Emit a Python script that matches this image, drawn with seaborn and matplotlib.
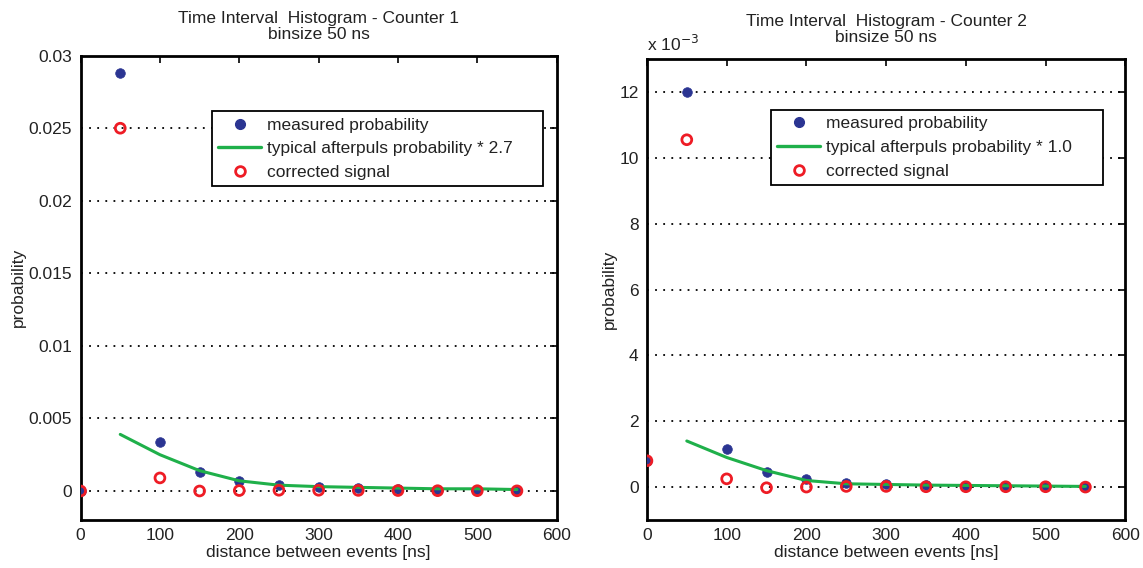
import numpy as np
import pandas as pd
import matplotlib
matplotlib.use("Agg")
import matplotlib.pyplot as plt
from matplotlib.ticker import FuncFormatter
from matplotlib.lines import Line2D
import seaborn as sns

# ---- data ----
x_pts = [0, 50, 100, 150, 200, 250, 300, 350, 400, 450, 500, 550]
x_line = [50, 100, 150, 200, 250, 300, 350, 400, 450, 500, 550]

c1_measured = [0.0, 0.0288, 0.0034, 0.0013, 0.0007, 0.0004, 0.0003, 0.0002, 0.00015, 0.0001, 0.0001, 0.00005]
c1_corrected = [0.0, 0.0250, 0.0009, 0.0, 0.00003, 0.00005, 0.00005, 0.00004, 0.00003, 0.00002, 0.00002, 0.00001]
c1_afterpuls = [0.0039, 0.0025, 0.0014, 0.0007, 0.0004, 0.0003, 0.00025, 0.0002, 0.00015, 0.00015, 0.0001]

c2_measured = [0.0008, 0.0120, 0.00115, 0.00045, 0.00025, 0.00012, 0.00008, 0.00005, 0.00004, 0.00003, 0.00002, 0.00001]
c2_corrected = [0.0008, 0.01055, 0.00025, -0.00002, 0.0, 0.00002, 0.00002, 0.00001, 0.00001, 0.00001, 0.00001, 0.0]
c2_afterpuls = [0.0014, 0.0009, 0.0005, 0.0002, 0.0001, 0.00008, 0.00006, 0.00005, 0.00004, 0.00003, 0.00002]

titles = ["Time Interval  Histogram - Counter 1\nbinsize 50 ns",
          "Time Interval  Histogram - Counter 2\nbinsize 50 ns"]
legend_labels_1 = ["measured probability", "typical afterpuls probability * 2.7", "corrected signal"]
legend_labels_2 = ["measured probability", "typical afterpuls probability * 1.0", "corrected signal"]
xlabel = "distance between events [ns]"
ylabel = "probability"

# ---- style ----
sns.set_theme(style="white")
plt.rcParams['font.family'] = ['Liberation Sans', 'DejaVu Sans']
FS = 12.5
plt.rcParams['font.size'] = FS

BLUE = "#2b3592"
RED = "#ee1c25"
GREEN = "#1fb04a"
TXT = "#222222"

fig = plt.figure(figsize=(11.43, 5.68), dpi=100)
ax1 = fig.add_axes([0.0705, 0.0845, 0.4165, 0.8175])
ax2 = fig.add_axes([0.566, 0.0845, 0.4185, 0.8115])


def draw(ax, meas, corr, line, labels, ylim, yticks, title, leg_box):
    df_p = pd.DataFrame({"x": x_pts, "meas": meas, "corr": corr})
    df_l = pd.DataFrame({"x": x_line, "line": line})
    sns.scatterplot(data=df_p, x="x", y="meas", ax=ax, color=BLUE, s=48,
                    edgecolor=BLUE, linewidth=0.5, zorder=3, legend=False)
    sns.lineplot(data=df_l, x="x", y="line", ax=ax, color=GREEN, lw=2.2,
                 zorder=4, legend=False)
    sns.scatterplot(data=df_p, x="x", y="corr", ax=ax, facecolor="none",
                    edgecolor=RED, s=50, linewidth=2.0, zorder=5, legend=False)
    ax.set_xlim(0, 600)
    ax.set_ylim(*ylim)
    ax.set_xticks(np.arange(0, 601, 100))
    ax.set_yticks(yticks)
    ax.yaxis.grid(True, linestyle=(0, (1, 3.5)), color="black", lw=1.3)
    ax.xaxis.grid(False)
    ax.tick_params(direction="in", length=5, width=1.2, top=True, right=True,
                   labelsize=FS, colors="black", labelcolor=TXT, pad=6)
    for sp in ax.spines.values():
        sp.set_color("black")
        sp.set_linewidth(2)
    ax.set_xlabel(xlabel, fontsize=FS, labelpad=1, color=TXT)
    ax.set_ylabel(ylabel, fontsize=FS, labelpad=2, color=TXT)
    ax.set_title(title, fontsize=FS, pad=12, linespacing=1.1, color=TXT)
    handles = [
        Line2D([], [], marker="o", ls="none", color=BLUE, markersize=7),
        Line2D([], [], color=GREEN, lw=2.4),
        Line2D([], [], marker="o", ls="none", markerfacecolor="none",
               markeredgecolor=RED, markeredgewidth=2.0, markersize=7),
    ]
    leg = ax.legend(handles, labels, loc="upper left",
                    bbox_to_anchor=leg_box, mode="expand", fancybox=False,
                    framealpha=1, edgecolor="black", fontsize=FS,
                    handlelength=2.5, handletextpad=0.3, borderpad=0.35,
                    labelspacing=0.5, borderaxespad=0)
    for t in leg.get_texts():
        t.set_color(TXT)
    leg.get_frame().set_linewidth(1.3)


draw(ax1, c1_measured, c1_corrected, c1_afterpuls, legend_labels_1,
     (-0.002, 0.03), [0, 0.005, 0.01, 0.015, 0.02, 0.025, 0.03], titles[0],
     (0.276, 0.0, 0.695, 0.880))
ax1.yaxis.set_major_formatter(FuncFormatter(lambda v, p: "0" if abs(v) < 1e-12 else f"{v:g}"))

draw(ax2, c2_measured, c2_corrected, c2_afterpuls, legend_labels_2,
     (-0.001, 0.013), [0, 0.002, 0.004, 0.006, 0.008, 0.010, 0.012], titles[1],
     (0.259, 0.0, 0.695, 0.889))
ax2.yaxis.set_major_formatter(FuncFormatter(lambda v, p: f"{round(v * 1e3):d}"))
ax2.text(0.0, 1.012, r"x 10$^{-3}$", transform=ax2.transAxes, fontsize=FS,
         ha="left", va="bottom", color=TXT)

fig.savefig("out.png", dpi=100)
